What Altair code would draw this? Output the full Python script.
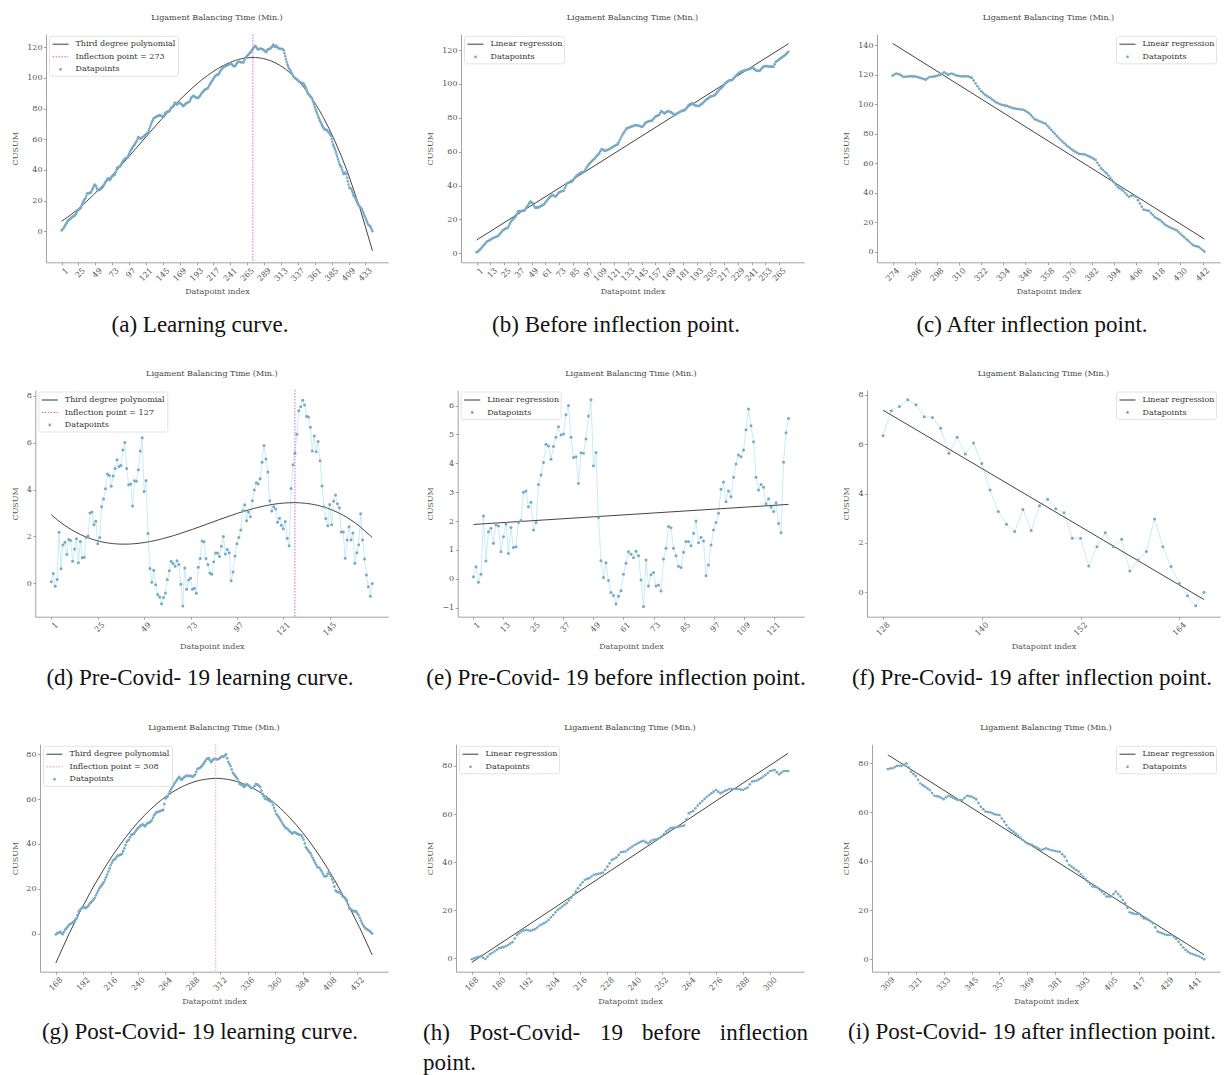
import altair as alt
import pandas as pd

# ---------------- data ----------------
# whole series, index 1..443
cusum_all = [
    0.6, 1.0, 1.6, 2.2, 3.0, 3.8, 4.6, 5.3, 6.1, 7.0,
    7.3, 7.6, 8.0, 8.4, 8.9, 9.2, 9.5, 9.8, 10.1, 10.4,
    11.2, 12.0, 12.9, 13.6, 14.0, 14.5, 14.8, 15.0, 16.2, 17.5,
    18.7, 19.5, 20.2, 20.9, 21.6, 23.0, 24.6, 24.9, 24.6, 25.0,
    25.2, 25.0, 25.5, 26.6, 27.6, 28.5, 29.6, 30.5, 30.1, 29.5,
    28.2, 27.0, 26.8, 27.3, 27.0, 27.4, 27.9, 28.2, 28.6, 29.0,
    30.0, 30.9, 31.8, 32.5, 33.2, 34.0, 34.4, 34.1, 33.7, 33.5,
    34.4, 35.3, 36.0, 36.3, 36.6, 36.8, 37.0, 38.5, 40.0, 41.3,
    41.6, 41.9, 42.1, 42.3, 43.1, 44.0, 44.8, 45.6, 46.2, 46.7,
    47.2, 47.6, 47.8, 48.0, 48.2, 49.4, 50.6, 51.7, 52.6, 53.3,
    54.0, 54.7, 55.4, 56.0, 56.8, 57.6, 58.3, 59.0, 60.3, 61.6,
    61.2, 60.8, 60.4, 60.7, 61.0, 61.3, 61.6, 62.0, 62.5, 62.9,
    63.3, 63.6, 64.0, 64.3, 65.6, 67.0, 68.4, 69.6, 70.8, 71.8,
    72.8, 73.8, 74.0, 74.3, 74.6, 74.8, 75.0, 75.3, 75.5, 75.7,
    75.6, 75.4, 75.3, 75.0, 74.6, 74.8, 75.8, 76.7, 77.3, 77.7,
    77.9, 78.1, 78.2, 78.3, 79.1, 79.9, 80.7, 81.0, 81.3, 81.6,
    82.8, 84.0, 83.5, 83.0, 82.6, 83.1, 83.6, 84.0, 83.7, 83.4,
    83.2, 82.6, 82.1, 81.6, 82.1, 82.6, 83.0, 83.4, 83.7, 84.0,
    84.2, 84.4, 84.6, 85.6, 86.6, 87.5, 87.9, 88.2, 88.5, 88.0,
    87.6, 87.2, 87.1, 87.0, 87.0, 87.5, 88.0, 88.5, 89.2, 89.9,
    90.5, 91.0, 91.5, 92.0, 92.5, 92.7, 92.9, 93.1, 93.4, 94.3,
    95.2, 96.0, 96.7, 97.4, 98.0, 98.8, 99.6, 100.3, 100.9, 101.5,
    102.0, 102.1, 102.2, 102.3, 103.1, 103.9, 104.7, 105.3, 106.0, 106.6,
    106.9, 107.3, 107.6, 107.8, 108.0, 108.2, 108.4, 108.6, 108.8, 109.1,
    109.4, 109.6, 109.0, 108.4, 107.8, 107.8, 107.7, 107.8, 108.6, 109.4,
    110.2, 110.3, 110.5, 110.6, 110.4, 110.3, 110.2, 110.2, 110.1, 110.2,
    111.6, 113.0, 113.5, 114.0, 114.5, 115.0, 115.5, 116.0, 116.5, 117.0,
    117.6, 118.3, 119.0,
    119.5, 120.3, 121.0, 120.6, 120.2, 119.4, 118.6, 118.8, 118.9, 119.0,
    119.2, 119.0, 119.0, 118.7, 118.4, 118.0, 117.6, 117.2, 116.8, 117.7,
    118.6, 118.8, 118.9, 119.0, 119.4, 119.8, 120.2, 121.0, 121.8, 121.0,
    120.2, 120.6, 121.0, 120.5, 120.0, 119.5, 119.3, 119.1, 119.0, 119.0,
    119.1, 119.0, 118.5, 118.0, 116.1, 114.2, 112.3, 110.6, 109.0, 107.8,
    106.6, 105.8, 105.1, 104.3, 103.3, 102.4, 101.4, 100.9, 100.3, 99.8,
    99.5, 99.2, 99.0, 98.5, 98.0, 97.5, 97.3, 97.0, 96.8, 96.7,
    96.5, 96.4, 95.6, 94.8, 94.0, 92.7, 91.3, 90.0, 89.5, 88.9,
    88.4, 87.9, 87.3, 86.8, 85.4, 84.1, 82.7, 81.3, 80.0, 78.6,
    77.3, 76.0, 74.8, 73.7, 72.5, 71.4, 70.5, 69.5, 68.6, 67.9,
    67.1, 66.4, 66.3, 66.2, 66.1, 65.6, 65.0, 64.5, 63.8, 63.0,
    62.3, 60.4, 58.5, 56.6, 55.5, 54.3, 53.2, 51.7, 50.1, 48.6,
    47.1, 45.5, 44.0, 43.1, 42.3, 41.4, 40.0, 38.6, 37.3, 37.8,
    38.4, 37.9, 37.3, 35.0, 32.7, 30.6, 28.6, 28.3, 28.0, 27.7,
    26.3, 25.0, 23.6, 22.9, 22.1, 21.4, 20.2, 19.1, 18.0, 17.4,
    16.7, 16.1, 15.6, 15.0, 14.5, 13.3, 12.2, 11.0, 9.9, 8.8,
    7.7, 6.6, 5.4, 4.3, 3.9, 3.6, 3.2, 2.2, 1.1, 0.0,
]

# pre-Covid-19 series, index 1..167
cusum_pre = [
    0.07, 0.42, -0.12, 0.16, 2.18, 0.62, 1.63, 1.75, 1.23, 1.87,
    1.83, 0.94, 1.46, 1.90, 0.88, 1.78, 1.09, 1.11, 1.95, 2.02,
    3.00, 3.04, 2.50, 2.65, 1.69, 1.95, 3.27, 3.60, 4.03, 4.66,
    4.60, 4.14, 4.58, 4.90, 5.27, 4.98, 5.02, 5.68, 6.00, 4.90,
    4.20, 4.23, 3.30, 4.37, 4.35, 4.84, 5.64, 6.20, 3.92, 4.38,
    2.12, 0.63, 0.05, 0.56, -0.06, -0.47, -0.58, -0.87, -0.60, -0.41,
    0.16, 0.54, 0.94, 0.85, 0.73, 0.96, 0.80, -0.04, -0.96, 0.65,
    -0.25, 0.14, 0.22, -0.25, -0.21, -0.42, 0.69, 1.06, 1.81, 1.77,
    1.06, 0.80, 0.44, 0.39, 0.92, 1.29, 1.29, 1.15, 1.58, 2.00,
    1.25, 1.44, 1.31, 0.11, 0.48, 1.17, 1.69, 1.95, 2.27, 3.10,
    3.35, 2.67, 3.04, 2.84, 3.52, 3.98, 4.29, 4.23, 4.46, 5.16,
    5.88, 5.30, 4.75, 3.52, 3.08, 3.27, 3.17, 2.60, 2.77, 2.48,
    2.33, 2.64, 1.92, 1.60, 4.04, 5.06, 5.55,
    6.35, 7.36, 7.53, 7.80, 7.60, 7.12, 7.09, 6.65, 5.64, 6.28,
    5.61, 6.05, 5.22, 4.15, 3.27, 2.76, 2.46, 3.36, 2.50, 3.51,
    3.77, 3.39, 3.22, 2.19, 2.19, 1.07, 1.85, 2.41, 1.85, 2.15,
    0.86, 1.31, 1.65, 2.97, 1.85, 1.04, 0.36, -0.14, -0.55, 0.00,
]

# post-Covid-19 series, index 168..445
cusum_post = [
    -0.4, 0.0, 0.3, 0.6, 0.8, 0.2, -0.3, 0.7, 1.7, 2.2,
    2.8, 3.5, 4.2, 4.4, 4.6, 5.0, 5.5, 6.1, 6.7, 8.2,
    9.7, 10.4, 11.1, 11.5, 11.8, 11.6, 11.4, 11.8, 12.1, 12.8,
    13.6, 14.1, 14.6, 15.2, 15.9, 17.0, 18.0, 19.1, 20.1, 20.8,
    21.5, 22.2, 22.9, 24.0, 25.2, 26.4, 27.7, 29.1, 30.5, 31.6,
    32.6, 33.0, 33.3, 34.0, 34.7, 34.9, 35.1, 35.3, 35.6, 36.8,
    38.1, 39.5, 40.9, 41.4, 41.9, 43.0, 44.1, 44.3, 44.4, 45.1,
    45.8, 46.5, 47.1, 47.6, 48.1, 48.5, 48.8, 48.3, 47.8, 48.5,
    49.2, 49.4, 49.5, 50.0, 50.6, 51.7, 52.7, 53.4, 54.1, 54.3,
    54.4, 54.6, 54.8, 55.0, 55.2, 57.8, 60.3, 60.8, 61.3, 62.4,
    63.5, 64.5, 65.4, 66.3, 67.2, 67.9, 68.6, 69.3, 70.0, 69.3,
    68.6, 69.1, 69.6, 70.0, 70.4, 70.4, 70.4, 70.4, 70.4, 70.2,
    70.0, 70.5, 71.0, 72.3, 73.5, 73.7, 73.9, 74.4, 74.9, 75.6,
    76.3, 77.1, 77.9, 78.1, 78.3, 77.4, 76.5, 77.2, 77.9, 77.9, 77.9,
    77.7, 77.9, 78.0, 78.5, 79.0, 79.0, 79.0, 79.5, 80.0, 78.3,
    76.6, 75.7, 74.8, 73.3, 71.8, 71.1, 70.5, 69.8, 69.1, 67.9,
    66.8, 66.6, 66.4, 65.9, 65.4, 66.1, 66.8, 66.4, 66.0, 65.5,
    65.0, 65.0, 65.0, 65.9, 66.8, 66.6, 66.4, 65.9, 65.4, 63.8,
    62.3, 61.3, 60.3, 60.1, 60.0, 59.6, 59.2, 59.0, 58.9, 57.5,
    56.2, 54.8, 53.5, 52.8, 52.1, 51.3, 50.5, 49.6, 48.7, 48.0,
    47.3, 47.0, 46.7, 46.1, 45.6, 45.1, 44.6, 45.0, 45.3, 45.0,
    44.6, 44.4, 44.2, 44.0, 43.9, 42.9, 41.9, 40.2, 38.5, 37.8,
    37.1, 36.4, 35.8, 34.7, 33.7, 32.7, 31.7, 30.7, 29.7, 29.5,
    29.3, 28.4, 27.6, 26.6, 25.6, 25.6, 25.6, 26.6, 27.6, 26.6,
    25.6, 24.2, 22.9, 21.0, 19.2, 18.8, 18.5, 18.5, 18.5, 17.6,
    16.7, 16.4, 16.1, 15.4, 14.7, 13.0, 11.3, 10.9, 10.6, 10.2,
    9.9, 9.9, 9.9, 9.1, 8.3, 7.1, 5.9, 4.8, 3.8, 3.1,
    2.4, 2.1, 1.8, 1.4, 1.1, 0.5, 0.0,
]

first_index_all = 1
first_index_pre = 1
first_index_post = 168
inflection_all = 273
inflection_pre = 127
inflection_post = 308

chart_title = "Ligament Balancing Time (Min.)"
x_title = "Datapoint index"
y_title = "CUSUM"
legend_poly = ["Third degree polynomial", "Inflection point  = {}", "Datapoints"]
legend_lin = ["Linear regression", "Datapoints"]
captions = [
    "(a) Learning curve.",
    "(b) Before inflection point.",
    "(c) After inflection point.",
    "(d) Pre-Covid- 19 learning curve.",
    "(e) Pre-Covid- 19 before inflection point.",
    "(f) Pre-Covid- 19 after inflection point.",
    "(g) Post-Covid- 19 learning curve.",
    "(h) Post-Covid- 19 before inflection point.",
    "(i) Post-Covid- 19 after inflection point.",
]

# ---------------- styling ----------------
W, H = 1226, 1075
FONT = "DejaVu Serif"
CAP_FONT = "Liberation Serif"
AXC = "#8c8c8c"
LABC = "#555555"
LINK = "#bde6f6"
DOT = "#76aac6"
FIT = "#444444"
MAG = "#d94fd9"


def frame(values, first):
    return pd.DataFrame({"x": list(range(first, first + len(values))), "y": values})


df_all = frame(cusum_all, first_index_all)
df_pre = frame(cusum_pre, first_index_pre)
df_post = frame(cusum_post, first_index_post)

ONE = pd.DataFrame({"k": [0]})


def txt(s, x, y, size=8, font=FONT, color="#444444", align="center",
        baseline="middle"):
    return alt.Chart(pd.DataFrame({"t": [s]})).mark_text(
        font=font, fontSize=size, color=color, align=align, baseline=baseline
    ).encode(text="t:N", x=alt.value(x), y=alt.value(y))


rows_y = [(262.3, 34.3), (616.7, 390.0), (971.7, 744.3)]

panels = [
    dict(df=df_all, fit="poly", infl=inflection_all, xr=(46, 388), row=0,
         ydom=[-20.2, 128.5], xt=list(range(1, 434, 24)), yt=list(range(0, 121, 20)),
         ytx=-31, side="left", mag=MAG, dot=6),
    dict(df=df_all[df_all.x <= inflection_all], fit="linear", infl=None, xr=(461, 804), row=0,
         ydom=[-5.3, 129.3], xt=list(range(1, 266, 12)), yt=list(range(0, 121, 20)),
         ytx=-30.3, side="left", dot=7),
    dict(df=df_all[df_all.x > inflection_all], fit="linear", infl=None, xr=(877, 1220), row=0,
         ydom=[-7.2, 147.6], xt=list(range(274, 443, 12)), yt=list(range(0, 141, 20)),
         ytx=-30.3, side="right", dot=7),
    dict(df=df_pre, fit="poly", infl=inflection_pre, xr=(35.3, 388.3), row=1,
         ydom=[-1.42, 8.24], xt=list(range(1, 146, 24)), yt=[0, 2, 4, 6, 8],
         ytx=-20.3, side="left", mag=MAG, dot=9),
    dict(df=df_pre[df_pre.x <= inflection_pre], fit="linear", infl=None, xr=(457.7, 804.3), row=1,
         ydom=[-1.31, 6.54], xt=list(range(1, 122, 12)), yt=list(range(-1, 7)),
         ytx=-27, side="left", dot=9),
    dict(df=df_pre[df_pre.x > inflection_pre], fit="linear", infl=None, xr=(867, 1220), row=1,
         ydom=[-0.99, 8.2], xt=[128, 140, 152, 164], yt=[0, 2, 4, 6, 8],
         ytx=-20.3, side="right", dot=9),
    dict(df=df_post, fit="poly", infl=inflection_post, xr=(40, 388), row=2,
         ydom=[-17.0, 84.5], xt=list(range(168, 433, 24)), yt=list(range(0, 81, 20)),
         ytx=-25, side="left", mag="#ec8dec", dot=7),
    dict(df=df_post[df_post.x <= inflection_post], fit="linear", infl=None, xr=(456, 804), row=2,
         ydom=[-5.6, 89.0], xt=list(range(168, 301, 12)), yt=list(range(0, 81, 20)),
         ytx=-25.3, side="left", dot=7),
    dict(df=df_post[df_post.x > inflection_post], fit="linear", infl=None, xr=(872, 1220), row=2,
         ydom=[-5.1, 87.8], xt=list(range(309, 442, 12)), yt=list(range(0, 81, 20)),
         ytx=-25.3, side="right", dot=7),
]


def build_panel(p):
    df = p["df"]
    x0, x1 = p["xr"]
    yb, yt = rows_y[p["row"]]
    lo, hi = float(df.x.min()), float(df.x.max())
    pad = 0.05 * (hi - lo)
    xs = alt.Scale(domain=[lo - pad, hi + pad], range=[x0, x1], nice=False, zero=False)
    ys = alt.Scale(domain=p["ydom"], range=[yb, yt], nice=False, zero=False)
    xa = alt.Axis(orient="bottom", offset=yb - H, values=p["xt"], format="d",
                  labelAngle=-45, labelAlign="right", labelBaseline="top",
                  labelOffset=2.5, labelPadding=1.5, tickSize=2.5,
                  labelFlush=False, labelOverlap=False, grid=False,
                  title=x_title, titleX=(x0 + x1) / 2, titleY=29.5,
                  titleAlign="center", titleBaseline="middle", titleAngle=0)
    ya = alt.Axis(orient="left", offset=-x0, values=p["yt"], format="d",
                  tickSize=2.5, labelPadding=1.5, labelFlush=False,
                  labelOverlap=False, grid=False,
                  title=y_title, titleX=p["ytx"], titleY=(yb + yt) / 2,
                  titleAngle=-90, titleAlign="center", titleBaseline="middle")

    def X():
        return alt.X("x:Q", scale=xs, axis=xa)

    def Y():
        return alt.Y("y:Q", scale=ys, axis=ya)

    base = alt.Chart(df)
    layers = [base.mark_line(color=LINK, strokeWidth=0.8).encode(x=X(), y=Y())]
    if p["fit"] == "poly":
        reg = base.transform_regression("x", "y", method="poly", order=3)
    else:
        reg = base.transform_regression("x", "y", method="linear")
    layers.append(reg.mark_line(color=FIT, strokeWidth=1).encode(x=X(), y=Y()))
    layers.append(base.mark_circle(size=p["dot"], color=DOT, opacity=1).encode(x=X(), y=Y()))
    if p["infl"] is not None:
        layers.append(
            alt.Chart(pd.DataFrame({"x": [p["infl"]]}))
            .mark_rule(color=p["mag"], strokeDash=[1.5, 1.5], strokeWidth=0.9)
            .encode(x=X(), y=alt.value(yt), y2=alt.value(yb))
        )

    # title
    layers.append(txt(chart_title, (x0 + x1) / 2, yt - 16.3, color="#444444"))

    # legend
    if p["fit"] == "poly":
        labels = [legend_poly[0], legend_poly[1].format(p["infl"]), legend_poly[2]]
        kinds = ["line", "dot_line", "dot"]
        bw = 129
    else:
        labels = legend_lin
        kinds = ["line", "dot"]
        bw = 100
    n = len(labels)
    bx0 = x0 + 3.5 if p["side"] == "left" else x1 - 3.5 - bw
    by0 = yt + 2
    by1 = by0 + 8 + 12.5 * (n - 1) + 7
    layers.append(
        alt.Chart(ONE).mark_rect(fill="white", fillOpacity=0.85, stroke="#dcdcdc",
                                 strokeWidth=0.8, cornerRadius=2)
        .encode(x=alt.value(bx0), x2=alt.value(bx0 + bw), y=alt.value(by0), y2=alt.value(by1))
    )
    for k, (lab, kind) in enumerate(zip(labels, kinds)):
        cy = by0 + 8 + 12.5 * k
        if kind == "line":
            layers.append(alt.Chart(ONE).mark_rule(color="#777777", strokeWidth=1.5).encode(
                x=alt.value(bx0 + 3), x2=alt.value(bx0 + 19), y=alt.value(cy)))
        elif kind == "dot_line":
            layers.append(alt.Chart(ONE).mark_rule(color=p["mag"], strokeWidth=1,
                                                   strokeDash=[1.5, 1.5]).encode(
                x=alt.value(bx0 + 3), x2=alt.value(bx0 + 19), y=alt.value(cy)))
        else:
            layers.append(alt.Chart(ONE).mark_circle(size=8, color=DOT, opacity=1).encode(
                x=alt.value(bx0 + 11), y=alt.value(cy)))
        layers.append(txt(lab, bx0 + 26, cy, color="#333333", align="left"))
    return alt.layer(*layers)


all_layers = [build_panel(p) for p in panels]

# captions
cap_centers = [200, 616, 1032]
cap_base = [331.5, 685, 1038.5]
for i, c in enumerate(captions):
    r, col = divmod(i, 3)
    if i == 7:
        continue
    all_layers.append(txt(c, cap_centers[col], cap_base[r], size=23, font=CAP_FONT,
                          color="#111111", align="center", baseline="alphabetic"))

# justified two-line caption (h)
h_words = captions[7].split(" ")  # ['(h)', 'Post-Covid-', '19', 'before', 'inflection', 'point.']
h_left = [423, 469, 600, 642]
for w, xx in zip(h_words[:4], h_left):
    all_layers.append(txt(w, xx, 1040, size=23, font=CAP_FONT, color="#111111",
                          align="left", baseline="alphabetic"))
all_layers.append(txt(h_words[4], 808, 1040, size=23, font=CAP_FONT, color="#111111",
                      align="right", baseline="alphabetic"))
all_layers.append(txt(h_words[5], 423, 1069.5, size=23, font=CAP_FONT, color="#111111",
                      align="left", baseline="alphabetic"))

chart = (
    alt.layer(*all_layers)
    .resolve_scale(x="independent", y="independent")
    .properties(width=W, height=H, padding=0, autosize=alt.AutoSizeParams(type="none"),
                background="white")
    .configure_view(stroke=None)
    .configure_axis(domainColor=AXC, tickColor=AXC, labelColor=LABC, titleColor=LABC,
                    labelFont=FONT, titleFont=FONT, labelFontSize=8, titleFontSize=8,
                    titleFontWeight="normal", domainWidth=0.8, tickWidth=0.8)
)

chart.save("out.html", embed_options={"renderer": "svg", "actions": False})
